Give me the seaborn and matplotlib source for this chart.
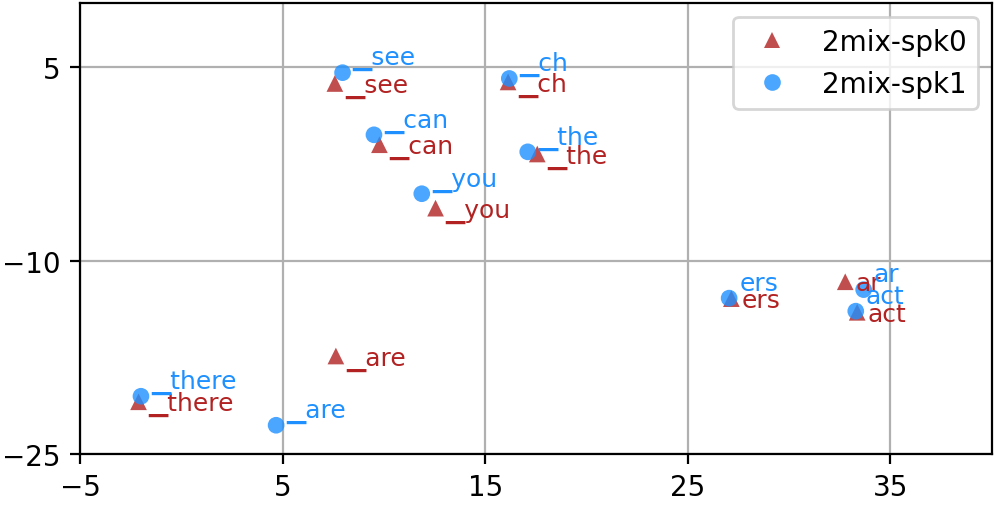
import pandas as pd
import matplotlib
matplotlib.use("Agg")
import matplotlib.pyplot as plt
import seaborn as sns

# tokens y coordenadas
tokens = ["\u2581see", "\u2581can", "\u2581you", "\u2581the", "\u2581ch",
          "\u2581are", "\u2581there", "ers", "ar", "act"]
spk0_x = [7.58, 9.78, 12.55, 17.57, 16.13, 7.63, -2.11, 27.15, 32.77, 33.36]
spk0_y = [3.74, -1.01, -5.93, -1.73, 3.86, -17.40, -20.95, -12.95, -11.64, -14.01]
spk1_x = [7.96, 9.51, 11.87, 17.10, 16.19, 4.68, -1.99, 27.04, 33.68, 33.29]
spk1_y = [4.58, -0.24, -4.81, -1.56, 4.13, -22.77, -20.52, -12.91, -12.25, -13.92]
speakers = ["2mix-spk0", "2mix-spk1"]
xticks = [-5, 5, 15, 25, 35]
yticks = [5, -10, -25]

colores = {"2mix-spk0": "firebrick", "2mix-spk1": "dodgerblue"}
marcadores = {"2mix-spk0": "^", "2mix-spk1": "o"}

df = pd.concat([
    pd.DataFrame({"x": spk0_x, "y": spk0_y, "token": tokens, "speaker": speakers[0]}),
    pd.DataFrame({"x": spk1_x, "y": spk1_y, "token": tokens, "speaker": speakers[1]}),
], ignore_index=True)

fig, ax = plt.subplots(figsize=(4.98, 2.53), dpi=200)
fig.subplots_adjust(left=0.0803, right=0.9957, bottom=0.1008, top=0.9925)

sns.scatterplot(data=df, x="x", y="y", hue="speaker", style="speaker",
                palette=colores, markers=marcadores, alpha=0.8, s=36,
                linewidth=0, ax=ax)

# etiquetas: spk1 arriba, spk0 abajo
for _, fila in df.iterrows():
    dy = -0.65 if fila["speaker"] == speakers[0] else 0.65
    ax.text(fila["x"] + 0.5, fila["y"] + dy, fila["token"], fontsize=9,
            color=colores[fila["speaker"]])

ax.set_xlim(-5, 40)
ax.set_ylim(-25, 10)
ax.set_xticks(xticks)
ax.set_yticks(yticks)
ax.set_xlabel("")
ax.set_ylabel("")
ax.grid(True, color="#b0b0b0", linewidth=0.8)
ax.set_axisbelow(True)
sns.move_legend(ax, "upper right", title=None)

plt.savefig("out.png", dpi=200)
plt.close()
